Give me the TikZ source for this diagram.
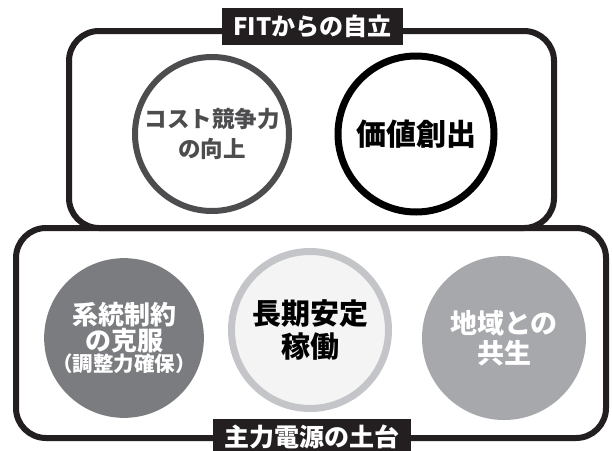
\documentclass[tikz,border=0pt]{standalone}
\usepackage{fontspec}
\setmainfont{Noto Sans CJK JP}
\definecolor{frameblack}{HTML}{231F20}
\definecolor{darkring}{HTML}{4D4D4F}
\definecolor{midgray}{HTML}{7B7C80}
\definecolor{lightgray}{HTML}{A7A8AC}
\definecolor{paleRing}{HTML}{C4C5C8}
\definecolor{paleFill}{HTML}{F4F4F4}
\begin{document}
\begin{tikzpicture}[x=1pt,y=-1pt,
  frame/.style={draw=frameblack, line width=6pt, rounded corners=30pt},
  tag/.style={fill=frameblack, text=white, inner sep=0pt, minimum height=37pt,
    font=\fontsize{24}{28}\selectfont\bfseries},
  disc/.style={circle, inner sep=0pt, align=center},
  f22/.style={font=\fontsize{22.5}{30}\selectfont\bfseries},
  f26/.style={font=\fontsize{27}{30}\selectfont\bfseries},
  f28/.style={font=\fontsize{29}{33}\selectfont\bfseries},
  f30/.style={font=\fontsize{30}{33}\selectfont\bfseries}]
\useasboundingbox (0,0) rectangle (612,450);
\fill[white] (0,0) rectangle (612,450);
% frames
\coordinate (tl) at (69,31);
\coordinate (tr) at (554,228);
\coordinate (bl) at (16,228);
\coordinate (br) at (606,438);
\draw[frame] (tl) rectangle (tr);
\draw[frame] (bl) rectangle (br);
% top circles
\node[disc, f22, draw=darkring, text=darkring, line width=6pt, fill=white, minimum size=154pt]
  (cost) at (212,134) {コスト競争力\\の向上};
\node[disc, f30, draw=black, text=black, line width=7pt, fill=white, minimum size=156pt]
  (value) at (416,134) {価値創出};
% bottom circles
\node[disc, fill=midgray, text=white, minimum size=154pt]
  (grid) at (124,338) {{\fontsize{26}{29}\selectfont\bfseries 系統制約}\\{\fontsize{26}{29}\selectfont\bfseries の克服}\\{\fontsize{20.5}{28}\selectfont\bfseries （調整力確保）}};
\node[disc, f28, draw=paleRing, fill=paleFill, text=black, line width=7pt, minimum size=157pt]
  (stable) at (310,330) {長期安定\\稼働};
\node[disc, f26, fill=lightgray, text=white, minimum size=164pt]
  (local) at (504,338) {地域との\\共生};
% tags
\node[tag, minimum width=181pt] (fit) at (312.5,26.5) {FITからの自立};
\node[tag, minimum width=198pt, font=\fontsize{25}{28}\selectfont\bfseries] (base) at (312,437) {主力電源の土台};
\end{tikzpicture}
\end{document}
